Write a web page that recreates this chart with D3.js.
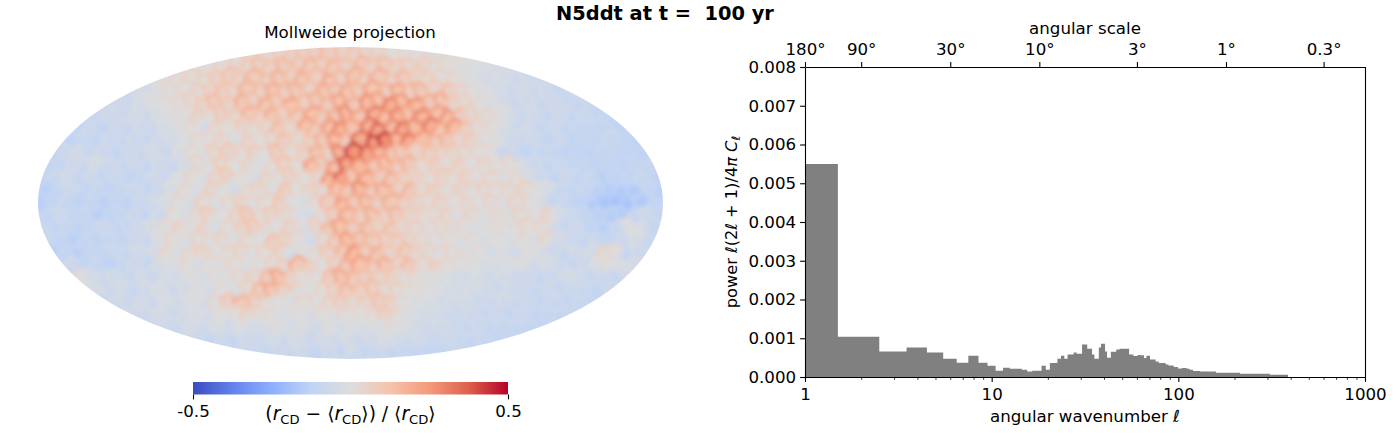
<!DOCTYPE html>
<html>
<head>
<meta charset="utf-8">
<script src="https://cdn.jsdelivr.net/npm/d3@7"></script>
<style>
  body { margin: 0; background: #fff; }
  text { font-family: "DejaVu Sans", sans-serif; fill: #000; }
</style>
</head>
<body>
<svg id="chart" width="1400" height="444"></svg>
<script>
// map values in hundredths of the colour scale, read row by row, each row centred
const mapRows = [
  [5,6,8,9,10,10,12,10,9,8,6,4,3,2,0,-1],
  [2,3,5,6,8,10,9,12,10,13,11,13,10,12,9,11,8,7,6,4,3,1,0,-2,-3,-4],
  [0,1,3,5,4,8,10,8,13,10,14,10,15,11,16,11,15,11,14,9,12,8,6,4,3,0,-2,-4,-3,-6,-5,-7],
  [-4,-3,0,2,3,5,7,10,8,14,10,15,11,14,10,16,12,17,13,17,12,17,11,14,8,10,5,2,0,-3,-6,-4,-7,-5,-8,-7],
  [-7,-5,-6,-3,-1,1,3,5,8,11,8,15,10,16,12,18,11,14,12,18,14,22,18,26,20,22,14,16,8,5,2,-1,-4,-7,-5,-8,-6,-8,-9,-8],
  [-8,-6,-7,-4,-6,-2,0,2,6,4,9,7,14,9,15,10,13,18,12,16,22,17,26,20,24,18,24,18,21,12,6,4,0,-3,-7,-5,-8,-6,-9,-7,-9,-10],
  [-10,-7,-9,-6,-8,-5,-7,-3,0,2,-2,5,3,8,4,6,12,7,18,12,20,24,18,26,30,22,28,22,26,16,20,10,5,2,-2,-6,-4,-8,-6,-9,-8,-10,-9,-11],
  [-10,-8,-10,-7,-8,-6,-8,-5,-3,-1,3,1,5,0,6,3,5,10,6,9,14,20,13,28,34,38,22,27,20,12,14,6,7,1,0,-5,-7,-6,-9,-7,-10,-9,-10,-8,-10,-11],
  [-9,-7,-4,-8,-6,-9,-7,-8,-4,-6,-2,2,-1,5,8,4,7,2,10,5,8,14,8,24,36,30,22,16,12,9,10,7,6,5,3,1,-8,-7,-10,-8,-9,-11,-10,-11,-9,-10,-11,-11],
  [-9,-10,-6,-8,-3,-6,-8,-6,-9,-5,-7,-3,3,0,7,2,5,0,3,9,4,19,12,20,31,22,15,18,12,14,5,8,3,7,2,5,1,3,-2,-6,-8,-7,-10,-9,-11,-10,-11,-10,-9,-10],
  [-11,-8,-5,-9,-6,-9,-7,-10,-8,-5,-7,-1,4,-1,5,8,3,-2,5,2,7,3,6,22,30,16,20,12,15,9,7,4,7,3,6,2,4,1,3,-2,-6,-9,-7,-10,-8,-12,-11,-10,-8,-11],
  [-12,-10,-6,-10,-8,-10,-9,-7,-9,-6,-2,3,-1,6,2,-3,2,5,0,10,3,5,6,18,14,22,12,17,9,14,5,8,3,6,3,5,2,4,5,0,-2,-8,-9,-8,-12,-13,-15,-14,-10,-12],
  [-12,-11,-8,-11,-9,-12,-10,-11,-7,-5,-2,2,-2,5,-1,3,6,1,4,9,2,-2,4,12,20,14,16,10,15,8,7,3,6,3,4,1,4,0,5,2,-2,-9,-8,-11,-14,-16,-17,-16,-14,-10],
  [-10,-7,-10,-9,-12,-10,-9,-7,-9,-5,2,-2,4,7,1,6,10,3,7,5,0,-3,3,10,17,11,15,9,13,7,5,3,5,1,4,0,3,0,4,1,5,-3,-7,-9,-12,-13,-14,-10,-6,-9],
  [-8,-10,-8,-11,-9,-7,-10,-8,-6,-3,2,5,0,6,-1,3,7,9,4,1,6,-2,6,14,18,12,14,8,11,6,5,2,4,1,3,-1,2,1,1,4,3,-4,-8,-6,-10,-12,-8,0,-1,-8],
  [-7,-10,-12,-9,-11,-8,-9,-6,-8,-1,3,-1,4,1,5,0,4,1,10,7,3,-3,5,11,19,14,12,10,8,6,4,1,3,-1,2,-2,1,-1,2,-2,4,-4,-7,-9,-8,-10,-7,-2,-7,-9],
  [-12,-10,-12,-9,-10,-7,-8,-5,-3,4,-1,3,6,1,3,5,0,4,7,-2,0,2,9,14,21,12,15,8,11,6,4,2,3,0,1,-3,-1,-4,0,-2,-6,-8,-5,-4,4,2,-8,-6],
  [-6,-10,-8,-11,-9,-6,-8,-3,-1,2,-2,2,0,3,-1,1,4,6,15,8,2,8,14,18,11,15,9,12,5,7,3,2,0,-2,-3,-1,0,-5,-3,-6,-8,-6,-2,1,-2,-3],
  [3,-3,-6,-5,-8,-4,-7,-3,-4,0,-2,1,-1,3,5,12,17,8,3,2,11,16,13,10,7,8,3,3,0,-1,-3,-4,-2,-5,-4,-7,-6,-8,-7,-4,-5,-8,-7,-8],
  [-3,-7,-4,-8,-5,-2,-6,-3,0,-3,1,-1,5,12,15,9,3,1,4,7,13,9,11,5,5,2,1,-1,-2,-4,-3,-5,-6,-5,-7,-8,-6,-8,-7,-8,-9,-8],
  [-8,-5,-7,-4,-6,-2,-4,-1,-3,2,9,14,10,3,1,-1,3,2,5,8,5,7,10,7,1,-1,-2,-4,-5,-4,-7,-6,-5,-8,-7,-9,-8,-9,-8,-9],
  [-5,-7,-3,-6,-4,-2,-4,1,3,5,3,1,-1,1,-2,2,-1,3,2,3,8,3,-1,-3,-4,-5,-7,-6,-8,-7,-9,-7,-9,-8,-9,-9],
  [-7,-5,-7,-3,-6,-2,-4,-1,-3,-4,0,-3,-1,-4,0,-3,-1,-2,0,1,-1,-4,-6,-5,-7,-8,-7,-9,-8,-10,-9,-10],
  [-7,-9,-6,-8,-5,-7,-4,-6,-3,-6,-4,-5,-2,-6,-4,-2,-4,-6,-5,-7,-6,-8,-9,-8,-10,-9],
  [-7,-9,-6,-8,-5,-9,-6,-8,-5,-8,-7,-9,-8,-10,-9,-10]
];

// coolwarm colour scale
const colorStops = [-0.5, -0.375, -0.25, -0.125, 0, 0.125, 0.25, 0.375, 0.5];
const colorValues = ["#3b4cc0", "#6282ea", "#8db0fe", "#c0d4f5", "#dddddd", "#f5c4ad", "#f49a7b", "#de604d", "#b40426"];
const colorbarTicks = [-0.5, 0.5];

// spectrum: bin edges in l, power per bin in units of 0.001
const histEdges = [1,1.5,2.5,3.5,4.5,5.5,6.5,7.5,8.5,9.5,10.5,11.5,12.5,13.5,14.5,15.5,16.5,17.5,18.5,19.5,20.5,
  22.5,23.5,24.5,25.5,27.5,28.5,30.5,32.5,34.5,35.5,37.5,38.5,40.5,41.5,43.5,46.5,48.5,51.5,54.5,57.5,60.5,62.5,65.5,67.5,70.5,
  75.5,78.5,85.5,88.5,94.5,99.5,105,111,115,120,131,142,159,214,310,387];
const histPower = [5.5,1.04,0.655,0.76,0.63,0.47,0.37,0.55,0.37,0.29,0.16,0.24,0.215,0.21,0.19,0.14,0.16,0.16,0.29,0.19,
  0.36,0.47,0.55,0.47,0.58,0.63,0.6,0.84,0.73,0.58,0.47,0.76,0.86,0.66,0.5,0.65,0.71,0.73,0.73,0.58,0.54,0.57,0.56,0.49,0.55,
  0.45,0.4,0.36,0.32,0.3,0.26,0.22,0.23,0.21,0.19,0.155,0.145,0.14,0.11,0.085,0.06];

const powerTicks = [0, 0.001, 0.002, 0.003, 0.004, 0.005, 0.006, 0.007, 0.008];
const wavenumberTicks = [1, 10, 100, 1000];
const wavenumberMinor = [2,3,4,5,6,7,8,9,20,30,40,50,60,70,80,90,200,300,400,500,600,700,800,900];
const scaleTickEll = [1, 2, 6, 18, 60, 180, 600];
const scaleTickLabels = ["180°", "90°", "30°", "10°", "3°", "1°", "0.3°"];

const svg = d3.select("#chart");
const defs = svg.append("defs");
const color = d3.scaleLinear().domain(colorStops).range(colorValues).clamp(true);
const labelSize = "16.67px";

svg.append("text")
  .attr("x", 665).attr("y", 20)
  .attr("text-anchor", "middle")
  .attr("font-size", "19.4px").attr("font-weight", "bold")
  .style("white-space", "pre")
  .text("N5ddt at t =  100 yr");

// Map panel
const mapX = d3.scaleLinear().domain([0, 50]).range([38, 663]);
const mapY = d3.scaleLinear().domain([0, 25]).range([47, 359]);

defs.append("clipPath").attr("id", "sky")
  .append("ellipse")
  .attr("cx", mapX(25)).attr("cy", mapY(12.5))
  .attr("rx", mapX(50) - mapX(25)).attr("ry", mapY(25) - mapY(12.5))
  .attr("shape-rendering", "crispEdges");

defs.append("filter").attr("id", "soften")
  .attr("filterUnits", "userSpaceOnUse")
  .attr("x", 0).attr("y", 0).attr("width", 720).attr("height", 420)
  .append("feGaussianBlur").attr("stdDeviation", 2);

// staggered cell centres, nudged off the lattice so the cells are not a regular honeycomb
const mapCellData = mapRows.flatMap((row, j) => {
  const offset = (50 - row.length) / 2 + (j % 2 ? 0.25 : -0.25);
  return row.map((v, i) => ({
    x: mapX(offset + i + 0.5) + (((i * 7 + j * 3) % 5) - 2) * 1.5,
    y: mapY(j + 0.5) + (((i * 3 + j * 11) % 5) - 2) * 1.5,
    v: v / 100
  }));
});
const voronoi = d3.Delaunay.from(mapCellData, d => d.x, d => d.y).voronoi([0, 20, 720, 400]);

// pale cell middles with stronger rims
const rim = v => 0.018 + 0.24 * Math.max(v, 0);

svg.append("g").attr("clip-path", "url(#sky)")
  .append("g").attr("filter", "url(#soften)")
  .selectAll("path")
  .data(mapCellData)
  .join("path")
  .attr("d", (d, i) => voronoi.renderCell(i))
  .attr("fill", d => color(d.v - rim(d.v)))
  .attr("stroke", d => color(d.v + rim(d.v)))
  .attr("stroke-width", 3)
  .attr("stroke-linejoin", "round");

svg.append("text")
  .attr("x", 350).attr("y", 38)
  .attr("text-anchor", "middle")
  .attr("font-size", labelSize)
  .text("Mollweide projection");

// Colorbar
const barScale = d3.scaleLinear().domain([-0.5, 0.5]).range([193, 508]);
const gradient = defs.append("linearGradient").attr("id", "coolwarm");
colorStops.forEach((s, i) => {
  gradient.append("stop")
    .attr("offset", (s + 0.5) * 100 + "%")
    .attr("stop-color", colorValues[i]);
});
svg.append("rect")
  .attr("x", barScale(-0.5)).attr("y", 382)
  .attr("width", barScale(0.5) - barScale(-0.5)).attr("height", 12.5)
  .attr("fill", "url(#coolwarm)");

const barAxis = svg.append("g")
  .attr("transform", "translate(0,394.5)")
  .call(d3.axisBottom(barScale).tickValues(colorbarTicks).tickSize(4.9).tickPadding(5.8).tickFormat(d => d3.format(".1f")(d).replace("−", "-")));
barAxis.select(".domain").remove();
barAxis.selectAll("line").attr("stroke-width", 1.1);
barAxis.selectAll("text").attr("font-size", labelSize).attr("font-family", "DejaVu Sans");

const barLabel = svg.append("text")
  .attr("x", 350.5).attr("y", 419.5)
  .attr("text-anchor", "middle")
  .attr("font-size", "18.7px");
const labelParts = [
  ["(", "normal", 0], ["r", "italic", 0], ["CD", "normal", 4],
  [" − ", "normal", 0], ["⟨", "normal", 0], ["r", "italic", 0], ["CD", "normal", 4],
  ["⟩) / ⟨", "normal", 0], ["r", "italic", 0], ["CD", "normal", 4], ["⟩", "normal", 0]
];
let lastShift = 0;
labelParts.forEach(([txt, fontStyle, shift]) => {
  barLabel.append("tspan")
    .attr("font-style", fontStyle)
    .attr("font-size", shift ? "13.1px" : null)
    .attr("dy", shift - lastShift)
    .style("white-space", "pre")
    .text(txt);
  lastShift = shift;
});

// Spectrum panel
const histX = d3.scaleLog().domain([1, 1000]).range([805, 1365]);
const histY = d3.scaleLinear().domain([0, 0.008]).range([377, 67]);

const histArea = d3.area()
  .x((d, i) => histX(histEdges[i]))
  .y0(histY(0))
  .y1(d => histY(d / 1000))
  .curve(d3.curveStepAfter);

svg.append("path")
  .datum(histPower.concat(histPower[histPower.length - 1]))
  .attr("d", histArea)
  .attr("fill", "gray");

const tickSize = 4.9;
const styleAxis = g => {
  g.selectAll("text").attr("font-size", labelSize).attr("font-family", "DejaVu Sans");
  g.selectAll("line, path").attr("stroke-width", 1.1).attr("stroke", "#000");
};

svg.append("g")
  .attr("transform", "translate(805,0)")
  .call(d3.axisLeft(histY).tickValues(powerTicks).tickSize(tickSize).tickSizeOuter(0).tickPadding(4).tickFormat(d3.format(".3f")))
  .call(styleAxis);

svg.append("line")
  .attr("x1", 1365.5).attr("x2", 1365.5).attr("y1", 67).attr("y2", 377)
  .attr("stroke", "#000").attr("stroke-width", 1.1);

svg.append("g")
  .attr("transform", "translate(0,377)")
  .call(d3.axisBottom(histX).tickValues(wavenumberMinor).tickSize(2.8).tickSizeOuter(0).tickFormat(""))
  .call(styleAxis)
  .selectAll("line").attr("stroke-width", 0.8);

svg.append("g")
  .attr("transform", "translate(0,377)")
  .call(d3.axisBottom(histX).tickValues(wavenumberTicks).tickSize(tickSize).tickSizeOuter(0).tickPadding(6).tickFormat(d3.format("d")))
  .call(styleAxis);

svg.append("g")
  .attr("transform", "translate(0,67)")
  .call(d3.axisTop(histX).tickValues(scaleTickEll).tickSize(tickSize).tickSizeOuter(0).tickPadding(7).tickFormat((d, i) => scaleTickLabels[i]))
  .call(styleAxis);

svg.append("text")
  .attr("x", 1085).attr("y", 34)
  .attr("text-anchor", "middle")
  .attr("font-size", labelSize)
  .text("angular scale");

svg.append("text")
  .attr("x", 1085).attr("y", 422)
  .attr("text-anchor", "middle")
  .attr("font-size", labelSize)
  .html('angular wavenumber <tspan font-style="italic">ℓ</tspan>');

svg.append("text")
  .attr("transform", "translate(737,222) rotate(-90)")
  .attr("text-anchor", "middle")
  .attr("font-size", "16.2px")
  .html('power <tspan font-style="italic">ℓ</tspan>(2<tspan font-style="italic">ℓ</tspan> + 1)/4<tspan font-style="italic">π C</tspan><tspan font-style="italic" font-size="11.7px" dy="3">ℓ</tspan>');
</script>
</body>
</html>
